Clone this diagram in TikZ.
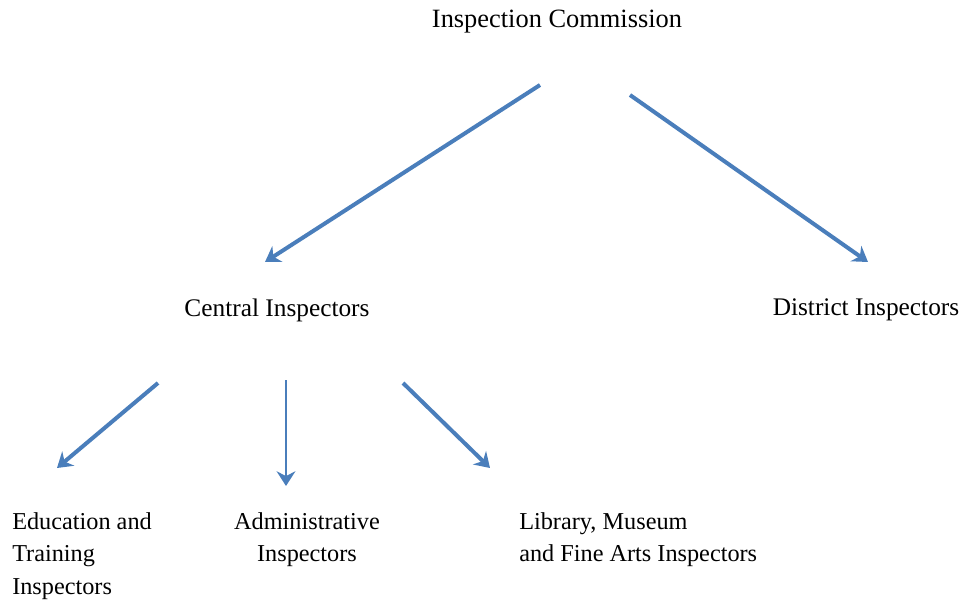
\documentclass[tikz,border=0pt]{standalone}
\usepackage{fontspec}
\setmainfont{Liberation Serif}
\usetikzlibrary{arrows.meta}
\definecolor{arrowblue}{HTML}{4A7EBB}
\begin{document}
\begin{tikzpicture}[x=0.75pt,y=-0.75pt,
  lbl/.style={inner sep=0pt,font=\fontsize{19}{24}\selectfont},
  sub/.style={inner sep=0pt,font=\fontsize{18.2}{24.5}\selectfont},
  conn/.style={draw=arrowblue,line width=3pt,-{Stealth[length=11pt,width=14pt]}}]
\useasboundingbox (0,0) rectangle (967,602);
\node[lbl,font=\fontsize{19.8}{24}\selectfont] (ic) at (557,22) {Inspection Commission};
\node[lbl] (ci) at (277,310) {Central Inspectors};
\node[lbl] (di) at (866,310) {District Inspectors};
\node[sub,anchor=north west,align=left] (et) at (12,512) {Education and\\Training\\Inspectors};
\node[sub,anchor=north,align=center] (ai) at (307,512) {Administrative\\Inspectors};
\node[sub,anchor=north west,align=left] (lm) at (519,512) {Library, Museum\\and Fine Arts Inspectors};
\coordinate (s1) at (540,85);
\coordinate (e1) at (265,262);
\coordinate (s2) at (630,95);
\coordinate (e2) at (868,262);
\coordinate (s3) at (158,383);
\coordinate (e3) at (57,468);
\coordinate (s4) at (286,380);
\coordinate (e4) at (286,486);
\coordinate (s5) at (403,383);
\coordinate (e5) at (490,468);
\draw[conn] (s1) -- (e1);
\draw[conn] (s2) -- (e2);
\draw[conn] (s3) -- (e3);
\draw[conn,line width=2pt] (s4) -- (e4);
\draw[conn] (s5) -- (e5);
\end{tikzpicture}
\end{document}
